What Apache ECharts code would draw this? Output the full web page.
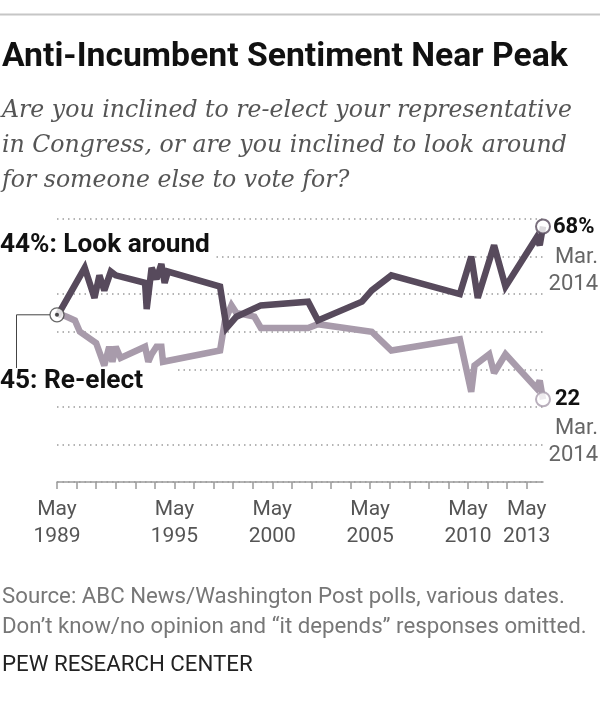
<!DOCTYPE html>
<html><head><meta charset="utf-8">
<script src="https://cdn.jsdelivr.net/npm/echarts@6/dist/echarts.min.js"></script>
<style>html,body{margin:0;padding:0;background:#fff}#c{width:600px;height:718px}</style>
</head><body><div id="c"></div>
<script>
// ---- data ----
const lookDates = ['1989-05','1990-10','1991-04','1991-07','1991-10','1992-02','1992-05','1993-11','1993-12','1994-03','1994-06','1994-09','1994-11','1995-01','1997-09','1998-01','1998-07','1999-10','2002-03','2002-09','2004-12','2005-06','2006-06','2009-12','2010-07','2010-11','2011-09','2012-04','2013-11','2014-01','2014-03'];
const lookValues = [44,57,49,55,51,56,55,53,46,57,54,58,53,56,52,41,44,47,48,43,48,51,55,50,60,49,63,52,65,63,68];
const reelectDates = ['1989-05','1989-11','1990-04','1990-07','1991-05','1991-10','1992-01','1992-03','1992-05','1992-08','1993-11','1994-01','1994-03','1994-06','1994-09','1994-10','1997-09','1997-12','1998-04','1998-07','1999-06','1999-10','2002-03','2002-09','2005-06','2006-06','2009-12','2010-07','2010-09','2011-06','2011-09','2012-04','2013-11','2014-01','2014-03'];
const reelectValues = [45,44,43,40,37,31,36,32,36,33,36,32,34,36,36,32,35,43,47,45,44,41,41,42,40,35,38,24,31,34,29,34,25,27,22];
const tickYears = [1989,1990,1991,1992,1993,1994,1995,1996,1997,1998,1999,2000,2001,2002,2003,2004,2005,2006,2007,2008,2009,2010,2011,2012,2013];
const labelYears = [1989,1995,2000,2005,2010,2013];
const tickMonth = 'May';
const axisStart = '1989-05', axisEnd = '2014-03';
const yMin = 0, yMax = 70, yStep = 10;

const title = 'Anti-Incumbent Sentiment Near Peak';
const subtitle = ['Are you inclined to re-elect your representative','in Congress, or are you inclined to look around','for someone else to vote for?'];
const lookLabel = '44%: Look around', reelectLabel = '45: Re-elect';
const endMonth = 'Mar.', endYear = '2014';
const footer = ['Source: ABC News/Washington Post polls, various dates.','Don\u2019t know/no opinion and \u201cit depends\u201d responses omitted.'];
const brand = 'PEW RESEARCH CENTER';

// ---- helpers ----
function toYear(s){ const p = s.split('-').map(Number); return p[0] + (p[1]-1)/12; }
const mayOff = 4/12;
const ctx = document.createElement('canvas').getContext('2d');
function fit(text, style, weight, family, width){ ctx.font = style+' '+weight+' 100px '+family; return 100*width/ctx.measureText(text).width; }

const DARK = '#574a5c', LIGHT = '#a89bab';
const SANS = 'Roboto', SERIF = '"DejaVu Serif"';

const lookData = lookDates.map((d,i)=>[toYear(d), lookValues[i]]);
const reData = reelectDates.map((d,i)=>[toYear(d), reelectValues[i]]);
const lastLook = lookData[lookData.length-1], lastRe = reData[reData.length-1];
const startPt = [lookData[0][0], (lookData[0][1]+reData[0][1])/2];

const chart = echarts.init(document.getElementById('c'), null, {renderer:'canvas'});
const option = {
  backgroundColor:'#fff',
  animation:false,
  grid:{left:57, right:57, top:219, bottom:236},
  xAxis:{
    type:'value', min:toYear(axisStart), max:toYear(axisEnd),
    axisLine:{show:true, lineStyle:{color:'#9a9a9a', width:1.5}},
    axisTick:{show:true, customValues: tickYears.map(y=>y+mayOff), length:7, lineStyle:{color:'#9a9a9a', width:1.5}},
    axisLabel:{customValues: labelYears.map(y=>y+mayOff), formatter:v=>tickMonth+'\n'+Math.round(v-mayOff),
      color:'#555', fontFamily:SANS, fontSize:21, lineHeight:27, margin:14},
    splitLine:{show:false}
  },
  yAxis:{
    type:'value', min:yMin, max:yMax, interval:yStep,
    axisLine:{show:false}, axisTick:{show:false}, axisLabel:{show:false},
    splitLine:{show:true, lineStyle:{color:'#9c9c9c', width:1.5, type:[1.5,4]}}
  },
  series:[
    {type:'line', data:reData, showSymbol:false, z:3, lineStyle:{color:LIGHT, width:6.5, join:'miter', miterLimit:2.5}},
    {type:'line', data:lookData, showSymbol:false, z:4, lineStyle:{color:DARK, width:6.5, join:'miter', miterLimit:2.5}},
    {type:'scatter', z:6, symbolSize:14, data:[
      {value:lastLook, itemStyle:{color:'#fff', borderColor:DARK, borderWidth:2}},
      {value:lastRe, itemStyle:{color:'#fff', borderColor:LIGHT, borderWidth:2}},
      {value:startPt, itemStyle:{color:'#fff', borderColor:'#444', borderWidth:1.3}}
    ]},
    {type:'scatter', z:7, symbolSize:4, data:[startPt], itemStyle:{color:'#222'}}
  ]
};
chart.setOption(option);

const pS = chart.convertToPixel({gridIndex:0}, startPt);
const pL = chart.convertToPixel({gridIndex:0}, lastLook);
const pR = chart.convertToPixel({gridIndex:0}, lastRe);
const pY60 = chart.convertToPixel({gridIndex:0}, [toYear(axisStart), 60])[1];
const pY30 = chart.convertToPixel({gridIndex:0}, [toYear(axisStart), 30])[1];

const tSize = fit(title, 'normal', 'bold', SANS, 566);
const sSize = fit(subtitle[0], 'italic', 'normal', SERIF, 570);
const lSize = fit(lookLabel, 'normal', 'bold', SANS, 210);
const fSize = fit(footer[1], 'normal', 'normal', SANS, 585);
const bSize = fit(brand, 'normal', 'normal', SANS, 251);

function T(text, x, y, size, o){ o = o||{};
  return {type:'text', z:10, style:{text, x, y, fontSize:size, fontFamily:o.family||SANS, fontWeight:o.weight||'normal', fontStyle:o.style||'normal', fill:o.fill||'#111', align:o.align||'left', verticalAlign:'middle'}}; }

const g = [
  {type:'line', z:10, shape:{x1:0, y1:14.5, x2:600, y2:14.5}, style:{stroke:'#c6c6c6', lineWidth:2}},
  T(title, 2, 58, tSize, {weight:'bold', fill:'#111'}),
  T(subtitle[0], 2, 111, sSize, {family:SERIF, style:'italic', fill:'#555'}),
  T(subtitle[1], 2, 146, sSize, {family:SERIF, style:'italic', fill:'#555'}),
  T(subtitle[2], 2, 181, sSize, {family:SERIF, style:'italic', fill:'#555'}),
  {type:'rect', z:1, shape:{x:0, y:pY60-3, width:213, height:6}, style:{fill:'#fff'}},
  {type:'rect', z:1, shape:{x:0, y:pY30-3, width:178, height:6}, style:{fill:'#fff'}},
  T(lookLabel, 0, 245, lSize, {weight:'bold'}),
  T(reelectLabel, 0, 381, lSize, {weight:'bold'}),
  {type:'polyline', z:5, shape:{points:[[pS[0]-7, pS[1]],[16.5, pS[1]],[16.5, 368]]}, style:{stroke:'#444', lineWidth:1, fill:null}},
  T(lookValues[lookValues.length-1]+'%', pL[0]+10, pL[1]+1, 22, {weight:'bold'}),
  T(endMonth, 598, pL[1]+31, 22, {fill:'#666', align:'right'}),
  T(endYear, 598, pL[1]+58, 22, {fill:'#666', align:'right'}),
  T(String(reelectValues[reelectValues.length-1]), pR[0]+12, pR[1], 22, {weight:'bold'}),
  T(endMonth, 598, pR[1]+29, 22, {fill:'#666', align:'right'}),
  T(endYear, 598, pR[1]+56, 22, {fill:'#666', align:'right'}),
  T(footer[0], 2, 597, fSize, {fill:'#777'}),
  T(footer[1], 2, 627, fSize, {fill:'#777'}),
  T(brand, 2, 665, bSize, {fill:'#222'})
];
chart.setOption({graphic:g});
</script>
</body></html>
